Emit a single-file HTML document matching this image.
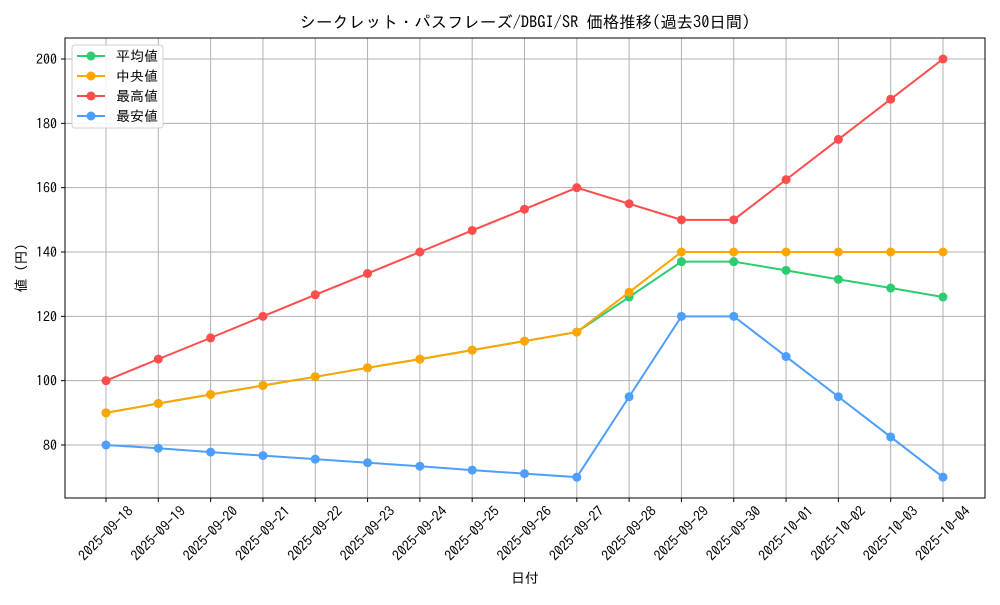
<!DOCTYPE html>
<html><head><meta charset="utf-8"><style>
body{margin:0;background:#fff}
svg text{font-family:"IPAGothic","Liberation Sans","Noto Sans CJK JP",sans-serif;fill:#000}
</style></head><body>
<svg id="s" width="1000" height="600" xmlns="http://www.w3.org/2000/svg"></svg>
<script>
const s=document.getElementById('s');
const L=65,R=985,T=38,B=498;
const X=i=>106+i*52.3125, Y=v=>445-(v-80)*3.2167;
const dates=["2025-09-18","2025-09-19","2025-09-20","2025-09-21","2025-09-22","2025-09-23","2025-09-24","2025-09-25","2025-09-26","2025-09-27","2025-09-28","2025-09-29","2025-09-30","2025-10-01","2025-10-02","2025-10-03","2025-10-04"];
const base=[90,92.9,95.7,98.5,101.2,104,106.7,109.5,112.3,115.1];
const series=[
 ["#2ecc71",base.concat([126,137,137,134.3,131.5,128.8,126])],
 ["#ffa500",base.concat([127.5,140,140,140,140,140,140])],
 ["#ff4d4d",[100,106.7,113.3,120,126.7,133.3,140,146.7,153.3,160,155,150,150,162.5,175,187.5,200]],
 ["#4d9fff",[80,79,77.8,76.7,75.6,74.5,73.4,72.2,71.1,70,95,120,120,107.5,95,82.5,70]]];
let h=`<text x="525" y="28" text-anchor="middle" font-size="16.4">シークレット・パスフレーズ/DBGI/SR 価格推移(過去30日間)</text>`;
dates.forEach((d,i)=>{const x=X(i);
 h+=`<line x1="${x}" y1="${T}" x2="${x}" y2="${B}" stroke="#b0b0b0" stroke-width="1"/>`;
 h+=`<line x1="${x}" y1="${B}" x2="${x}" y2="${B+4}" stroke="#000"/>`;
 h+=`<text transform="translate(${x+28},${B+14}) rotate(-45)" text-anchor="end" font-size="14">${d}</text>`;});
for(let v=80;v<=200;v+=20){const y=Y(v);
 h+=`<line x1="${L}" y1="${y}" x2="${R}" y2="${y}" stroke="#b0b0b0" stroke-width="1"/>`;
 h+=`<line x1="${L-4}" y1="${y}" x2="${L}" y2="${y}" stroke="#000"/>`;
 h+=`<text x="${L-8}" y="${y+5}" text-anchor="end" font-size="14">${v}</text>`;}
series.forEach(([c,d])=>{
 h+=`<polyline fill="none" stroke="${c}" stroke-width="2" points="${d.map((v,i)=>X(i)+','+Y(v)).join(' ')}"/>`;
 d.forEach((v,i)=>h+=`<circle cx="${X(i)}" cy="${Y(v)}" r="4.5" fill="${c}"/>`);});
h+=`<rect x="${L}" y="${T}" width="${R-L}" height="${B-T}" fill="none" stroke="#000" stroke-width="1"/>`;
h+=`<rect x="72" y="45" width="91" height="83" rx="3" fill="#fff" fill-opacity="0.85" stroke="#d0d0d0"/>`;
["平均値","中央値","最高値","最安値"].forEach((t,i)=>{const y=56+i*20,c=series[i][0];
 h+=`<line x1="77" y1="${y}" x2="105" y2="${y}" stroke="${c}" stroke-width="2"/><circle cx="91" cy="${y}" r="4.5" fill="${c}"/>`;
 h+=`<text x="116" y="${y+5}" font-size="14">${t}</text>`;});
h+=`<text x="525" y="583" text-anchor="middle" font-size="14">日付</text>`;
h+=`<text transform="translate(26,268) rotate(-90)" text-anchor="middle" font-size="14">値 (円)</text>`;
s.innerHTML=h;
</script>
</body></html>
